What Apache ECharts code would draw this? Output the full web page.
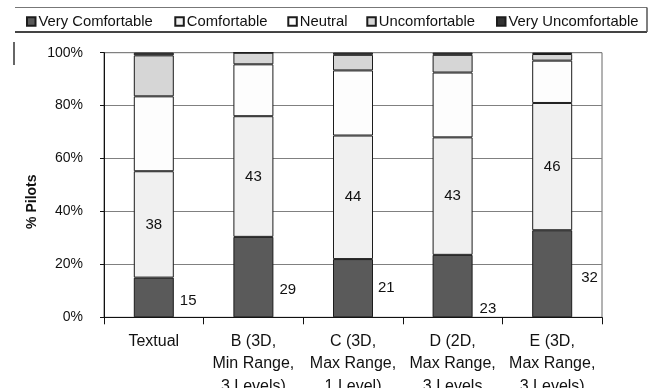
<!DOCTYPE html>
<html>
<head>
<meta charset="utf-8">
<script src="https://cdn.jsdelivr.net/npm/echarts@6/dist/echarts.min.js"></script>
<style>html,body{margin:0;padding:0;background:#fff}#c{width:652px;height:388px}</style>
</head>
<body>
<div id="c"></div>
<script>
// ---- data ----
var categories = ['Textual', 'B (3D,\nMin Range,\n3 Levels)', 'C (3D,\nMax Range,\n1 Level)', 'D (2D,\nMax Range,\n3 Levels', 'E (3D,\nMax Range,\n3 Levels)'];
var seriesNames = ['Very Comfortable', 'Comfortable', 'Neutral', 'Uncomfortable', 'Very Uncomfortable'];
// percentages of pilots
var veryComfortable   = [15.0, 30.4, 22.0, 23.6, 32.9];
var comfortable       = [40.2, 45.6, 46.7, 44.4, 48.1];
var neutral           = [28.3, 19.6, 24.6, 24.5, 16.0];
var uncomfortable     = [15.5,  4.4,  5.9,  6.7,  2.5];
var veryUncomfortable = [ 1.0,  0.0,  0.8,  0.8,  0.5];
// printed counts
var veryComfortableLabels = [15, 29, 21, 23, 32];
var comfortableLabels     = [38, 43, 44, 43, 46];
var yTicks = [0, 20, 40, 60, 80, 100];

// ---- styling ----
var FONT = "'Liberation Sans', Arial, sans-serif";
var colors = ['#5a5a5a', '#f0f0f0', '#fdfdfd', '#d6d6d6', '#333333'];
var vcLabelOffsets = [[1, 3.4], [1, 13], [0, -0.7], [2, 22.7], [4, 4.1]];
var legendLefts = [26, 174.3, 287.3, 366.3, 496];

var allValues = [veryComfortable, comfortable, neutral, uncomfortable, veryUncomfortable];

var series = seriesNames.map(function (name, si) {
  var data = allValues[si].map(function (v, i) {
    if (si === 0) {
      return { value: v, label: { offset: vcLabelOffsets[i] } };
    }
    return v;
  });
  var s = {
    name: name,
    type: 'bar',
    stack: 'all',
    barWidth: 40,
    data: data,
    itemStyle: { color: colors[si], borderColor: '#1c1c1c', borderWidth: 1 },
    emphasis: { disabled: true },
    animation: false
  };
  if (si === 0) {
    s.label = {
      show: true, position: 'right', distance: 5,
      fontFamily: FONT, fontSize: 15, color: '#111',
      formatter: function (p) { return veryComfortableLabels[p.dataIndex]; }
    };
  } else if (si === 1) {
    s.label = {
      show: true, position: 'inside',
      fontFamily: FONT, fontSize: 15, color: '#111',
      formatter: function (p) { return comfortableLabels[p.dataIndex]; }
    };
  }
  return s;
});

var legends = seriesNames.map(function (name, i) {
  return {
    data: [name],
    left: legendLefts[i],
    top: 13,
    icon: 'rect',
    itemWidth: 8.5,
    itemHeight: 8.5,
    selectedMode: false,
    textStyle: { fontFamily: FONT, fontSize: 14.8, color: '#111', lineHeight: 17, padding: [0, 0, 0, -2] },
    padding: 0
  };
});

var chart = echarts.init(document.getElementById('c'), null, { renderer: 'canvas' });
chart.setOption({
  animation: false,
  backgroundColor: '#fff',
  legend: legends,
  grid: {
    left: 104, right: 50, top: 52.7, bottom: 70.7,
    containLabel: false, outerBoundsMode: 'none',
    show: true, borderColor: '#666', borderWidth: 1, backgroundColor: 'transparent'
  },
  xAxis: {
    type: 'category',
    data: categories,
    axisLine: { lineStyle: { color: '#111', width: 1 } },
    axisTick: { show: true, length: 7, alignWithLabel: false, lineStyle: { color: '#111' } },
    axisLabel: { fontFamily: FONT, fontSize: 16, color: '#111', lineHeight: 22.5, margin: 13, interval: 0 }
  },
  yAxis: {
    type: 'value',
    min: yTicks[0], max: yTicks[yTicks.length - 1], interval: 20,
    axisLine: { show: true, lineStyle: { color: '#111', width: 1 } },
    axisTick: { show: true, length: 4, lineStyle: { color: '#111' } },
    axisLabel: { fontFamily: FONT, fontSize: 14, color: '#111', margin: 21, formatter: '{value}%' },
    splitLine: { show: true, lineStyle: { color: '#808080', width: 1 } }
  },
  series: series,
  graphic: [
    { type: 'line', shape: { x1: 15, y1: 7.5, x2: 647, y2: 7.5 }, style: { stroke: '#777', lineWidth: 1 } },
    { type: 'line', shape: { x1: 15, y1: 32, x2: 647, y2: 32 }, style: { stroke: '#444', lineWidth: 2 } },
    { type: 'line', shape: { x1: 647, y1: 7.5, x2: 647, y2: 32 }, style: { stroke: '#555', lineWidth: 1.5 } },
    { type: 'line', shape: { x1: 14, y1: 42, x2: 14, y2: 65 }, style: { stroke: '#333', lineWidth: 1.5 } },
    { type: 'text', x: 31.7, y: 201.7, rotation: Math.PI / 2,
      style: { text: '% Pilots', font: 'bold 14px ' + FONT, fill: '#111', align: 'center', verticalAlign: 'middle' } }
  ]
});
</script>
</body>
</html>
